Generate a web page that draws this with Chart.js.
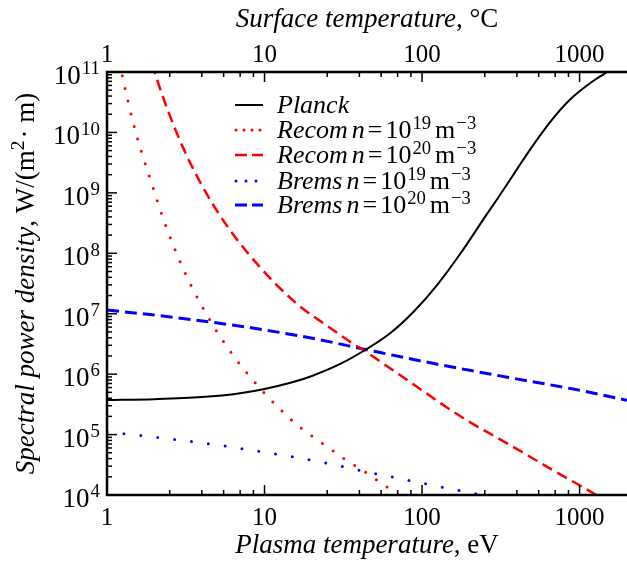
<!DOCTYPE html>
<html><head><meta charset="utf-8">
<script src="https://cdn.jsdelivr.net/npm/chart.js@4/dist/chart.umd.min.js"></script>
<style>html,body{margin:0;padding:0;background:#fff}canvas{display:block}</style>
</head><body>
<canvas id="c" width="627" height="563"></canvas>
<script>
// ---- data ----
const planckT = [1, 2, 4, 7, 10, 15, 20, 30, 43.5, 63, 89, 126, 178, 251, 304, 400, 485, 650, 870, 1200, 1518, 2000];
const planckP = [3.72e5, 3.85e5, 4.17e5, 4.84e5, 5.69e5, 7.33e5, 9.33e5, 1.46e6, 2.51e6, 4.8e6, 1.1e7, 3.1e7, 1.05e8, 4.0e8, 8.3e8, 2.45e9, 5.2e9, 1.48e10, 3.5e10, 6.9e10, 1.02e11, 1.58e11];

const recom19T = [1.2, 1.26, 1.46, 1.69, 1.93, 2.2, 2.6, 3.1, 3.9, 5, 6.5, 9, 12, 16.8, 25, 34, 43.5, 60, 80];
const recom19P = [1.41e11, 7.9e10, 1.51e10, 4.0e9, 1.38e9, 4.8e8, 1.48e8, 5.0e7, 1.51e7, 5.0e6, 1.86e6, 6.6e5, 2.95e5, 1.32e5, 6.3e4, 3.6e4, 2.4e4, 1.35e4, 8.1e3];

const recom20T = [1.93, 2.2, 2.6, 3.1, 3.9, 5, 6.5, 9, 12, 16.8, 25, 34, 43.5, 60, 80, 100, 144, 200, 299, 500, 700, 1000, 1200, 1300];
const recom20P = [1.38e11, 4.8e10, 1.48e10, 5.0e9, 1.51e9, 5.0e8, 1.86e8, 6.6e7, 2.95e7, 1.32e7, 6.3e6, 3.6e6, 2.4e6, 1.35e6, 8.1e5, 5.4e5, 2.8e5, 1.62e5, 8.9e4, 4.1e4, 2.45e4, 1.45e4, 1.1e4, 9.8e3];

const brems19T = [1, 2, 4.7, 10, 22.5, 43.5, 117, 270, 350];
const brems19P = [1.1e5, 9.1e4, 6.9e4, 5.1e4, 3.55e4, 2.45e4, 1.45e4, 9.5e3, 8.5e3];

const brems20T = [1, 2, 4.7, 10, 22.5, 43.5, 117, 347, 964, 2000];
const brems20P = [1.15e7, 9.5e6, 7.2e6, 5.4e6, 3.7e6, 2.57e6, 1.51e6, 8.9e5, 5.5e5, 3.7e5];

// ---- ticks ----
const xMajor = [1, 10, 100, 1000];
const xMinorSteps = [2.5, 4, 5.5, 7, 8.5];
const topMajor = [1, 10, 100, 1000];
const yExponents = [4, 5, 6, 7, 8, 9, 10, 11];
const yMinorSteps = [2, 3, 4, 5, 6, 7, 8, 9];

const pts = (xs, ys) => xs.map((x, i) => ({x, y: ys[i]}));
const FONT = 'Liberation Serif';
const f = (size, it) => (it ? 'italic ' : '') + size + 'px "' + FONT + '"';

function drawRuns(ctx, runs, x, y, size, align, supScale) {
  const sup = size * (supScale || 0.72), rise = size * 0.36;
  let total = 0;
  for (const r of runs) { ctx.font = f(r.s ? sup : size, r.i); total += ctx.measureText(r.t).width + (r.g || 0); }
  let cx = align === 'center' ? x - total / 2 : align === 'right' ? x - total : x;
  for (const r of runs) {
    ctx.font = f(r.s ? sup : size, r.i);
    ctx.fillText(r.t, cx, r.s ? y - rise : y);
    cx += ctx.measureText(r.t).width + (r.g || 0);
  }
  return total;
}

const series = [
  {label: 'Planck', data: pts(planckT, planckP), color: '#000', width: 2, dash: [], cap: 'butt', legDash: []},
  {label: 'Recom n=1e19', data: pts(recom19T, recom19P), color: '#ff0000', width: 3, dash: [0, 13], cap: 'round', legDash: [0, 8]},
  {label: 'Recom n=1e20', data: pts(recom20T, recom20P), color: '#ff0000', width: 2.5, dash: [11, 6], cap: 'butt', legDash: [12, 5]},
  {label: 'Brems n=1e19', data: pts(brems19T, brems19P), color: '#0000ff', width: 3, dash: [0, 17], cap: 'round', legDash: [0, 10]},
  {label: 'Brems n=1e20', data: pts(brems20T, brems20P), color: '#0000ff', width: 3, dash: [12, 6], cap: 'butt', legDash: [12, 5]}
];

const legendNames = ['Recom', 'Recom', 'Brems', 'Brems'];
const legendExp = ['19', '20', '19', '20'];
const legendRuns = [[{t: 'Planck', i: 1}]].concat(legendNames.map((nm, k) => [
  {t: nm, i: 1, g: 4}, {t: 'n', i: 1, g: 3}, {t: '=', g: 3}, {t: '10', g: 1}, {t: legendExp[k], s: 1, g: 4}, {t: 'm', g: 1}, {t: '\u22123', s: 1}
]));
const legendBase = [113, 138, 163, 189, 213];

const axesPlugin = {
  id: 'axesPlugin',
  afterDraw(chart) {
    const ctx = chart.ctx, a = chart.chartArea;
    const xs = chart.scales.x, ys = chart.scales.y, xt = chart.scales.xTop;
    ctx.save();
    ctx.strokeStyle = '#000'; ctx.fillStyle = '#000';
    ctx.lineWidth = 2.5;
    ctx.lineCap = 'butt';
    ctx.beginPath();
    ctx.moveTo(a.right + 2, a.top); ctx.lineTo(a.left, a.top); ctx.lineTo(a.left, a.bottom); ctx.lineTo(a.right + 2, a.bottom);
    ctx.stroke();
    ctx.lineWidth = 1.5;
    const tick = (x1, y1, x2, y2) => { ctx.beginPath(); ctx.moveTo(x1, y1); ctx.lineTo(x2, y2); ctx.stroke(); };
    for (const m of xMajor) {
      const px = xs.getPixelForValue(m);
      if (m > 1) tick(px, a.bottom, px, a.bottom - 10);
      for (const s of xMinorSteps) {
        const v = m * s; if (v > xs.max) continue;
        const q = xs.getPixelForValue(v); tick(q, a.bottom, q, a.bottom - 5);
      }
    }
    for (const m of topMajor) {
      const px = xt.getPixelForValue(m);
      if (m > 1) tick(px, a.top, px, a.top + 10);
      for (const s of xMinorSteps) {
        const v = m * s; if (v > xt.max) continue;
        const q = xt.getPixelForValue(v); tick(q, a.top, q, a.top + 5);
      }
    }
    for (const e of yExponents) {
      const py = ys.getPixelForValue(Math.pow(10, e));
      if (e > 4 && e < 11) tick(a.left, py, a.left + 10, py);
      if (e < 11) for (const s of yMinorSteps) {
        const q = ys.getPixelForValue(s * Math.pow(10, e)); tick(a.left, q, a.left + 5, q);
      }
    }
    ctx.textBaseline = 'alphabetic';
    ctx.textAlign = 'left';
    for (const m of xMajor) drawRuns(ctx, [{t: String(m)}], xs.getPixelForValue(m), a.bottom + 30, 25, 'center');
    for (const m of topMajor) drawRuns(ctx, [{t: String(m)}], xt.getPixelForValue(m), a.top - 10, 25, 'center');
    for (const e of yExponents) {
      const py = ys.getPixelForValue(Math.pow(10, e));
      drawRuns(ctx, [{t: '10', g: 1}, {t: String(e), s: 1}], a.left - 7, py + 12, 27, 'right', 0.7);
    }
    const cx = (a.left + a.right) / 2;
    drawRuns(ctx, [{t: 'Plasma temperature', i: 1}, {t: ', eV'}], cx, 553, 27, 'center');
    drawRuns(ctx, [{t: 'Surface temperature', i: 1}, {t: ', \u00B0C'}], cx, 27, 27, 'center');
    ctx.save();
    ctx.translate(34, (a.top + a.bottom) / 2);
    ctx.rotate(-Math.PI / 2);
    drawRuns(ctx, [{t: 'Spectral power density', i: 1}, {t: ', W/(m'}, {t: '2', s: 1, g: 2}, {t: '\u00B7 m)'}], 0, 0, 27, 'center');
    ctx.restore();
    series.forEach((s, i) => {
      const yb = legendBase[i];
      ctx.save();
      ctx.strokeStyle = s.color; ctx.lineWidth = s.width; ctx.lineCap = s.cap;
      ctx.setLineDash(s.legDash);
      ctx.beginPath(); ctx.moveTo(s.cap === 'round' ? 236 : 235, yb - 8); ctx.lineTo(263, yb - 8); ctx.stroke();
      ctx.restore();
      drawRuns(ctx, legendRuns[i], 277, yb, 26, 'left', 0.72);
    });
    ctx.restore();
  }
};

new Chart(document.getElementById('c'), {
  type: 'line',
  data: {
    datasets: series.map(s => ({
      label: s.label, data: s.data, borderColor: s.color, borderWidth: s.width,
      borderDash: s.dash, borderCapStyle: s.cap, pointRadius: 0, fill: false,
      cubicInterpolationMode: 'monotone', clip: 0
    }))
  },
  options: {
    responsive: false, animation: false, devicePixelRatio: 1,
    layout: {padding: {left: 107, top: 72, right: 0, bottom: 68}},
    plugins: {legend: {display: false}, tooltip: {enabled: false}},
    scales: {
      x: {type: 'logarithmic', min: 1, max: 2000, display: false},
      xTop: {type: 'logarithmic', axis: 'x', min: 1, max: 2000, display: false},
      y: {type: 'logarithmic', min: 1e4, max: 1e11, display: false}
    }
  },
  plugins: [axesPlugin]
});
</script>
</body></html>
